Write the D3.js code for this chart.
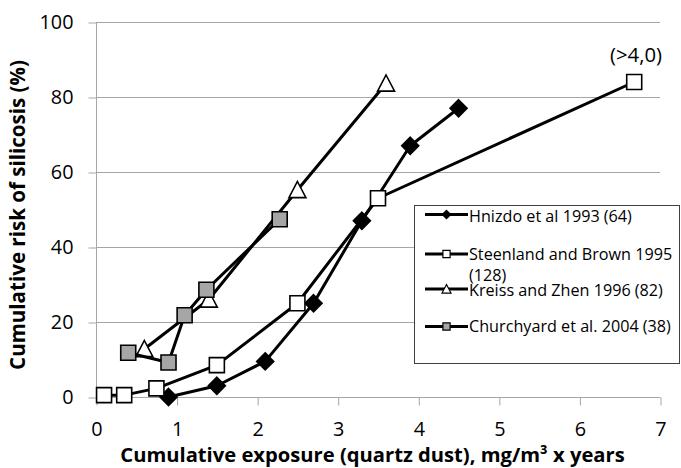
<!DOCTYPE html>
<html>
<head>
<meta charset="utf-8">
<script src="https://cdn.jsdelivr.net/npm/d3@7"></script>
<style>
html,body{margin:0;padding:0;background:#fff;}
svg{display:block;font-family:"Open Sans",sans-serif;}
</style>
</head>
<body>
<svg id="chart" width="681" height="468"></svg>
<script>
const seriesNames = ["Hnizdo et al 1993 (64)", "Steenland and Brown 1995 (128)", "Kreiss and Zhen 1996 (82)", "Churchyard et al. 2004 (38)"];
const hnizdoX = [0.9, 1.5, 2.1, 2.7, 3.3, 3.9, 4.5];
const hnizdoY = [0, 3, 9.5, 25, 47, 67, 77];
const steenlandX = [0.1, 0.35, 0.75, 1.5, 2.5, 3.5, 6.68];
const steenlandY = [0.5, 0.5, 2.3, 8.5, 25, 53, 84];
const kreissX = [0.6, 1.4, 2.5, 3.6];
const kreissY = [12.8, 26, 55.2, 83.6];
const churchyardX = [0.4, 0.9, 1.1, 1.37, 2.28];
const churchyardY = [11.8, 9.2, 21.8, 28.6, 47.4];
const xTicks = [0, 1, 2, 3, 4, 5, 6, 7];
const yTicks = [0, 20, 40, 60, 80, 100];
const annotationText = "(>4,0)";
const xTitle = "Cumulative exposure (quartz dust), mg/m³ x years";
const yTitle = "Cumulative risk of silicosis (%)";

const svg = d3.select("#chart");
const x = d3.scaleLinear().domain([0, 7]).range([96, 660]);
const y = d3.scaleLinear().domain([0, 100]).range([397, 22]);

// scale a font size so that a text node gets a given width
function fitSize(sel, target) {
  const w = sel.node().getComputedTextLength();
  const fs = parseFloat(sel.attr("font-size"));
  return fs * target / w;
}

// gridlines
svg.append("g").selectAll("line").data(yTicks.filter(d => d > 0)).join("line")
  .attr("x1", x(0)).attr("x2", x(7))
  .attr("y1", d => y(d) + 0.5).attr("y2", d => y(d) + 0.5)
  .attr("stroke", "#a6a6a6").attr("stroke-width", 1);

// y axis
const yAxis = svg.append("g").attr("transform", `translate(${x(0) + 0.5},0.5)`)
  .call(d3.axisLeft(y).tickValues(yTicks).tickSize(8).tickPadding(15));
yAxis.select(".domain").attr("stroke", "#a6a6a6").attr("d", `M0,${y(100)}V${y(0)}`);
yAxis.selectAll(".tick line").attr("stroke", "#a6a6a6");
yAxis.selectAll(".tick text").attr("font-family", "Open Sans").attr("font-size", 18).attr("fill", "#000");

// x axis
const xAxis = svg.append("g").attr("transform", `translate(0.5,${y(0) + 0.5})`)
  .call(d3.axisBottom(x).tickValues(xTicks).tickSize(8).tickFormat(d3.format("d")).tickPadding(16));
xAxis.select(".domain").attr("stroke", "#a6a6a6").attr("d", `M${x(0)},0H${x(7)}`);
xAxis.selectAll(".tick line").attr("stroke", "#a6a6a6");
xAxis.selectAll(".tick text").attr("font-family", "Open Sans").attr("font-size", 18).attr("fill", "#000");

const label100 = yAxis.selectAll(".tick text").filter(d => d === 100);
const tickFs = fitSize(label100, 34);
yAxis.selectAll(".tick text").attr("font-size", tickFs);
xAxis.selectAll(".tick text").attr("font-size", tickFs).attr("dy", null).attr("y", 38);

// titles
const xt = svg.append("text").attr("x", 372.5).attr("y", 461.5).attr("text-anchor", "middle")
  .attr("font-weight", "bold").attr("font-size", 18).text(xTitle);
xt.attr("font-size", fitSize(xt, 505));
const yt = svg.append("text").attr("transform", "translate(25,215) rotate(-90)").attr("text-anchor", "middle")
  .attr("font-weight", "bold").attr("font-size", 18).text(yTitle);
yt.attr("font-size", fitSize(yt, 310));

// marker shapes
function diamondPath(s) { return `M0,${-s}L${s},0L0,${s}L${-s},0Z`; }
function squarePath(s) { return `M${-s},${-s}H${s}V${s}H${-s}Z`; }
function trianglePath(s) { return `M0,${-s}L${s},${s * 0.9}H${-s}Z`; }

const series = [
  { name: seriesNames[0], xs: hnizdoX, ys: hnizdoY, shape: "diamond", fill: "#000" },
  { name: seriesNames[1], xs: steenlandX, ys: steenlandY, shape: "square", fill: "#fff" },
  { name: seriesNames[2], xs: kreissX, ys: kreissY, shape: "triangle", fill: "#fff" },
  { name: seriesNames[3], xs: churchyardX, ys: churchyardY, shape: "square", fill: "#a6a6a6" }
];

function markerPath(shape, big) {
  if (shape === "diamond") return diamondPath(big ? 8.5 : 4.2);
  if (shape === "square") return squarePath(big ? 7.5 : 3.6);
  return trianglePath(big ? 8.5 : 4.5);
}

const line = d3.line().x(d => x(d[0])).y(d => y(d[1]));
series.forEach(s => {
  const pts = s.xs.map((v, i) => [v, s.ys[i]]);
  const g = svg.append("g");
  g.append("path").attr("d", line(pts)).attr("fill", "none").attr("stroke", "#000")
    .attr("stroke-width", 3).attr("stroke-linejoin", "round");
  g.selectAll("path.m").data(pts).join("path").attr("class", "m")
    .attr("transform", d => `translate(${x(d[0])},${y(d[1])})`)
    .attr("d", markerPath(s.shape, true))
    .attr("fill", s.fill).attr("stroke", "#000").attr("stroke-width", 1.6);
});

// annotation
const ann = svg.append("text").attr("x", 636).attr("y", 62).attr("text-anchor", "middle")
  .attr("font-size", 16).text(annotationText);
ann.attr("font-size", fitSize(ann, 52));

// legend
const lg = svg.append("g");
lg.append("rect").attr("x", 414.5).attr("y", 205.5).attr("width", 265).attr("height", 158)
  .attr("fill", "#fff").attr("stroke", "#404040").attr("stroke-width", 1);
const rowY = [214.5, 254, 289, 326.5];
series.forEach((s, i) => {
  const yy = rowY[i];
  lg.append("line").attr("x1", 425).attr("x2", 468).attr("y1", yy).attr("y2", yy)
    .attr("stroke", "#000").attr("stroke-width", 3);
  lg.append("path").attr("transform", `translate(446.5,${yy})`).attr("d", markerPath(s.shape, false))
    .attr("fill", s.fill).attr("stroke", "#000").attr("stroke-width", 1.2);
});
const l1 = lg.append("text").attr("x", 469).attr("y", 221.5).attr("font-size", 14).text(seriesNames[0]);
const legendFont = fitSize(l1, 163);
l1.attr("font-size", legendFont);
const t2 = lg.append("text").attr("x", 469).attr("y", 260).attr("font-size", legendFont);
t2.append("tspan").attr("x", 469).text("Steenland and Brown 1995");
t2.append("tspan").attr("x", 469).attr("dy", 20.5).text("(128)");
lg.append("text").attr("x", 469).attr("y", 295.5).attr("font-size", legendFont).text(seriesNames[2]);
lg.append("text").attr("x", 469).attr("y", 332).attr("font-size", legendFont).text(seriesNames[3]);
</script>
</body>
</html>
